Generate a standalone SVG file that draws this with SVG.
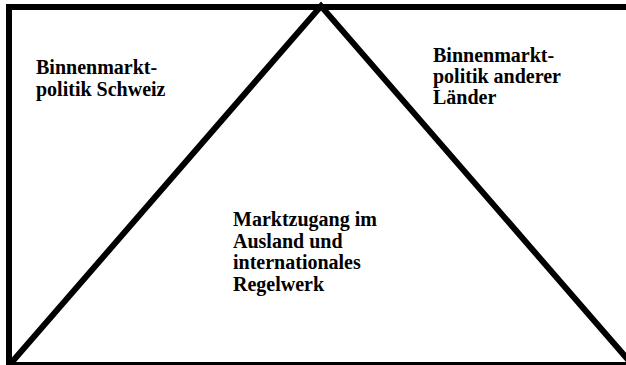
<svg xmlns="http://www.w3.org/2000/svg" width="626" height="365" viewBox="0 0 626 365">
<style>
.t{font-family:"Liberation Serif","Times New Roman",serif;font-weight:bold;font-size:20px;fill:#000}
.ln{fill:none;stroke:#000;stroke-width:6}
</style>
<rect x="0" y="0" width="626" height="365" fill="#fff"/>
<g id="connectors">
<rect class="ln" x="9" y="7" width="630" height="358"/>
<polyline class="ln" points="12,362 321,6 630,362" stroke-linejoin="miter"/>
</g>
<g id="node-left">
<text class="t" x="36" y="74">Binnenmarkt-</text>
<text class="t" x="36" y="95.5">politik Schweiz</text>
</g>
<g id="node-right">
<text class="t" x="433" y="62">Binnenmarkt-</text>
<text class="t" x="433" y="83">politik anderer</text>
<text class="t" x="433" y="104">Länder</text>
</g>
<g id="node-center">
<text class="t" x="233" y="226">Marktzugang im</text>
<text class="t" x="233" y="247.5">Ausland und</text>
<text class="t" x="233" y="269">internationales</text>
<text class="t" x="233" y="290.5">Regelwerk</text>
</g>
</svg>
